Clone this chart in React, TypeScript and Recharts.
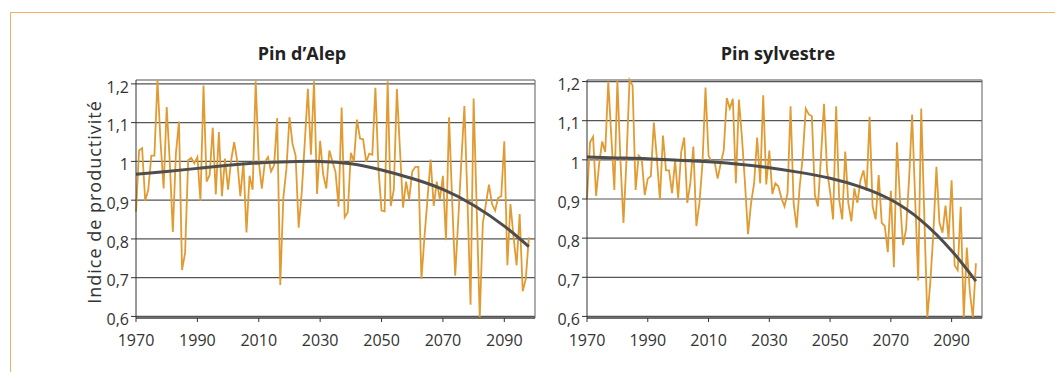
import React from 'react';
import { LineChart, Line, XAxis, YAxis, CartesianGrid, ReferenceLine } from 'recharts';

if (typeof document !== 'undefined') document.body.style.margin = '0';

// years 1970..2098, one value per year
const firstYear = 1970;
const lastYear = 2098;
const years: number[] = [];
for (let y = firstYear; y <= lastYear; y++) years.push(y);

// Pin d'Alep, yearly index
const alepValues = [
  0.87, 1.028, 1.034, 0.898, 0.927, 1.015, 1.015, 1.21, 1.05, 0.93, // 1970s
  1.14, 1.0, 0.818, 1.02, 1.103, 0.72, 0.764, 1.003, 1.009, 0.995, // 1980s
  1.011, 0.898, 1.196, 0.948, 0.965, 1.087, 0.915, 1.076, 0.91, 1.007, // 1990s
  0.927, 1.003, 1.05, 1.0, 0.91, 0.998, 0.817, 0.963, 0.927, 1.207, // 2000s
  1.0, 0.93, 0.999, 1.011, 0.974, 0.99, 1.112, 0.681, 0.906, 0.98, // 2010s
  1.114, 1.045, 1.015, 0.829, 0.92, 1.05, 1.187, 1.017, 1.207, 0.916, // 2020s
  1.053, 0.965, 0.93, 1.028, 1.0, 0.973, 0.883, 1.139, 0.856, 0.869, // 2030s
  1.022, 1.0, 1.108, 1.059, 1.057, 0.999, 1.02, 1.017, 1.19, 0.98, // 2040s
  0.873, 0.871, 1.207, 0.885, 0.927, 1.187, 1.03, 0.881, 0.948, 0.902, // 2050s
  0.974, 0.986, 0.986, 0.697, 0.806, 0.906, 1.005, 0.885, 0.948, 0.902, // 2060s
  0.963, 0.797, 1.114, 0.9, 0.705, 0.85, 1.0, 1.143, 0.9, 0.63, // 2070s
  1.162, 0.88, 0.596, 0.84, 0.89, 0.94, 0.89, 0.873, 0.906, 0.91, // 2080s
  1.052, 0.732, 0.89, 0.806, 0.732, 0.864, 0.665, 0.697, 0.804, // 2090-2098
];

// Pin sylvestre, yearly index
const sylvestreValues = [
  0.9, 1.045, 1.059, 0.908, 0.99, 1.047, 1.02, 1.2, 1.06, 0.923, // 1970s
  1.204, 1.0, 0.839, 1.0, 1.204, 1.19, 0.923, 1.011, 1.003, 0.91, // 1980s
  0.952, 0.958, 1.095, 1.003, 0.898, 1.062, 0.973, 0.973, 0.915, 0.999, // 1990s
  0.902, 1.02, 1.057, 0.89, 0.94, 1.034, 0.831, 0.89, 0.99, 1.185, // 2000s
  1.011, 0.994, 0.994, 0.952, 0.99, 1.024, 1.158, 1.131, 1.156, 0.94, // 2010s
  1.154, 1.057, 0.94, 0.81, 0.89, 0.94, 1.057, 0.94, 1.165, 0.937, // 2020s
  1.024, 0.913, 0.94, 0.932, 0.902, 0.881, 0.915, 1.137, 0.89, 0.827, // 2030s
  0.932, 1.007, 1.131, 1.116, 1.112, 0.91, 0.881, 1.007, 1.143, 0.973, // 2040s
  0.919, 0.848, 1.137, 0.898, 0.848, 1.021, 0.89, 0.843, 0.927, 0.89, // 2050s
  0.948, 0.973, 0.921, 1.11, 0.881, 0.848, 0.961, 0.839, 0.831, 0.764, // 2060s
  0.921, 0.726, 1.045, 0.9, 0.782, 0.822, 0.95, 1.116, 0.9, 0.692, // 2070s
  1.131, 0.86, 0.596, 0.688, 0.814, 0.982, 0.839, 0.814, 0.883, 0.797, // 2080s
  0.948, 0.73, 0.718, 0.88, 0.596, 0.776, 0.663, 0.596, 0.736, // 2090-2098
];

// trend curves, read at a few years
const alepTrendYears = [1970, 1980, 1990, 2000, 2010, 2020, 2030, 2040, 2050, 2060, 2070, 2080, 2090, 2098];
const alepTrendValues = [0.967, 0.974, 0.982, 0.99, 0.996, 0.999, 1.0, 0.994, 0.978, 0.956, 0.928, 0.887, 0.833, 0.78];
const sylvTrendYears = [1970, 1980, 1990, 2000, 2010, 2020, 2030, 2040, 2050, 2060, 2070, 2080, 2090, 2098];
const sylvTrendValues = [1.007, 1.005, 1.003, 0.999, 0.995, 0.989, 0.98, 0.968, 0.953, 0.931, 0.898, 0.845, 0.768, 0.69];

const xTicks = [1970, 1990, 2010, 2030, 2050, 2070, 2090];
const yTicks = [0.6, 0.7, 0.8, 0.9, 1, 1.1, 1.2];
const yTickLabels = ['0,6', '0,7', '0,8', '0,9', '1', '1,1', '1,2'];

const toRows = (xs: number[], vs: number[]) => xs.map((year, i) => ({ year, v: vs[i] }));

const font = '"Open Sans", "Liberation Sans", sans-serif';
const tickStyle = { fontSize: 16, fill: '#333', fontFamily: font };

type PanelProps = {
  left: number;
  width: number;
  axisWidth: number;
  values: number[];
  trendYears: number[];
  trendValues: number[];
};

function Panel({ left, width, axisWidth, values, trendYears, trendValues }: PanelProps) {
  return (
    <div style={{ position: 'absolute', left, top: 0 }}>
      <LineChart width={width} height={360} margin={{ top: 80, right: 10, bottom: 12, left: 0 }}>
        <CartesianGrid horizontal vertical={false} stroke="#555" strokeWidth={1.2} />
        <XAxis
          type="number"
          dataKey="year"
          domain={[1970, 2100]}
          ticks={xTicks}
          height={30}
          tickSize={4}
          tickMargin={13}
          stroke="#333"
          tick={tickStyle}
          allowDecimals={false}
        />
        <YAxis
          type="number"
          dataKey="v"
          domain={[0.6, 1.2]}
          ticks={yTicks}
          width={axisWidth}
          tickSize={5}
          tickMargin={2}
          stroke="#333"
          tick={{ ...tickStyle, dy: 3 }}
          tickFormatter={(t: number) => yTickLabels[yTicks.indexOf(t)] ?? String(t)}
        />
        <ReferenceLine x={2100} stroke="#777" strokeWidth={1.2} />
        <Line
          data={toRows(years, values)}
          dataKey="v"
          type="linear"
          stroke="#E19B32"
          strokeWidth={1.8}
          dot={false}
          isAnimationActive={false}
        />
        <Line
          data={toRows(trendYears, trendValues)}
          dataKey="v"
          type="natural"
          stroke="#4d4d4d"
          strokeWidth={3}
          dot={false}
          isAnimationActive={false}
        />
      </LineChart>
    </div>
  );
}

const titleStyle: React.CSSProperties = {
  position: 'absolute',
  top: 44,
  width: 300,
  textAlign: 'center',
  fontFamily: font,
  fontWeight: 700,
  fontSize: 18,
  lineHeight: '18px',
  color: '#222',
};

export default function App() {
  return (
    <div style={{ position: 'relative', width: 1055, height: 372, background: '#fff', overflow: 'hidden' }}>
      <div
        style={{
          position: 'absolute',
          left: 10,
          top: 12,
          width: 1100,
          height: 400,
          borderLeft: '1.5px solid #EFB06A',
          borderTop: '1.5px solid #EFB06A',
        }}
      />
      <Panel left={0} width={545} axisWidth={136} values={alepValues} trendYears={alepTrendYears} trendValues={alepTrendValues} />
      <Panel left={557} width={435} axisWidth={30} values={sylvestreValues} trendYears={sylvTrendYears} trendValues={sylvTrendValues} />
      <div style={{ ...titleStyle, left: 302 - 150 }}>Pin d’Alep</div>
      <div style={{ ...titleStyle, left: 778 - 150 }}>Pin sylvestre</div>
      <div
        style={{
          position: 'absolute',
          left: 94,
          top: 202,
          transform: 'translate(-50%, -50%) rotate(-90deg)',
          whiteSpace: 'nowrap',
          fontFamily: font,
          fontSize: 18,
          letterSpacing: 1,
          color: '#333',
        }}
      >
        Indice de productivité
      </div>
    </div>
  );
}
